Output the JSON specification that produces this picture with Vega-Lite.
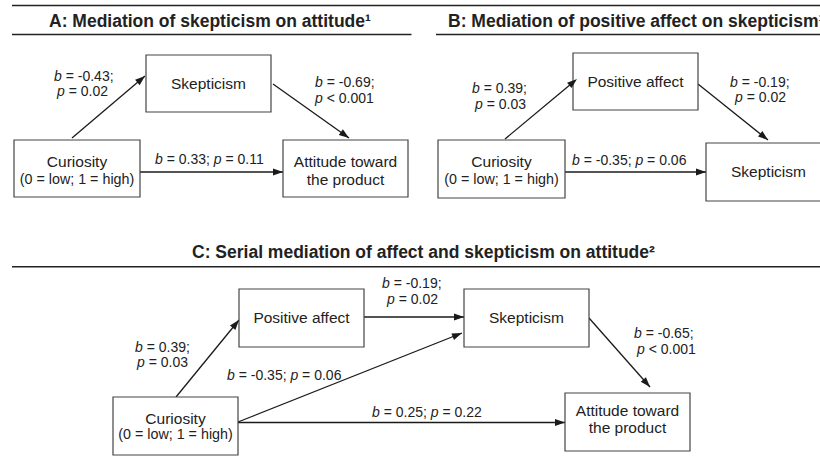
{
  "$schema": "https://vega.github.io/schema/vega-lite/v6.json",
  "width": 820,
  "height": 473,
  "autosize": {"type": "none"},
  "padding": 0,
  "background": "white",
  "config": {"view": {"stroke": null}, "font": "Liberation Sans"},
  "datasets": {
    "titles": [
      {"panel": "A", "x": 49, "y": 27, "text": "A: Mediation of skepticism on attitude¹"},
      {"panel": "B", "x": 448, "y": 27, "text": "B: Mediation of positive affect on skepticism¹"},
      {"panel": "C", "x": 192, "y": 258.3, "text": "C: Serial mediation of affect and skepticism on attitude²"}
    ],
    "rules": [
      {"x": 12, "x2": 820, "y": 5.5},
      {"x": 12, "x2": 411.5, "y": 34.5},
      {"x": 436, "x2": 820, "y": 34.5},
      {"x": 12, "x2": 820, "y": 266.7}
    ],
    "boxes": [
      {"panel": "A", "node": "Skepticism", "x": 146, "x2": 271, "y": 55, "y2": 112},
      {"panel": "A", "node": "Curiosity", "x": 14, "x2": 140, "y": 140, "y2": 197},
      {"panel": "A", "node": "Attitude", "x": 283, "x2": 408, "y": 140, "y2": 197},
      {"panel": "B", "node": "Positive affect", "x": 573, "x2": 698, "y": 53, "y2": 110},
      {"panel": "B", "node": "Curiosity", "x": 438, "x2": 565, "y": 140, "y2": 198},
      {"panel": "B", "node": "Skepticism", "x": 706, "x2": 831, "y": 143, "y2": 201},
      {"panel": "C", "node": "Positive affect", "x": 239, "x2": 364, "y": 289, "y2": 347},
      {"panel": "C", "node": "Skepticism", "x": 464, "x2": 589, "y": 289, "y2": 347},
      {"panel": "C", "node": "Curiosity", "x": 113, "x2": 238, "y": 397, "y2": 455},
      {"panel": "C", "node": "Attitude", "x": 565, "x2": 690, "y": 393, "y2": 451}
    ],
    "nodeText": [
      {"panel": "A", "x": 208.5, "y": 83.5, "text": "Skepticism", "role": "main"},
      {"panel": "A", "x": 77, "y": 162, "text": "Curiosity", "role": "main"},
      {"panel": "A", "x": 77, "y": 180, "text": "(0 = low; 1 = high)", "role": "sub"},
      {"panel": "A", "x": 345.5, "y": 162, "text": "Attitude toward", "role": "main"},
      {"panel": "A", "x": 345.5, "y": 180, "text": "the product", "role": "main"},
      {"panel": "B", "x": 635.5, "y": 81.5, "text": "Positive affect", "role": "main"},
      {"panel": "B", "x": 501.5, "y": 162.3, "text": "Curiosity", "role": "main"},
      {"panel": "B", "x": 501.5, "y": 180, "text": "(0 = low; 1 = high)", "role": "sub"},
      {"panel": "B", "x": 768.5, "y": 171.7, "text": "Skepticism", "role": "main"},
      {"panel": "C", "x": 301.5, "y": 318, "text": "Positive affect", "role": "main"},
      {"panel": "C", "x": 526.5, "y": 317.7, "text": "Skepticism", "role": "main"},
      {"panel": "C", "x": 175.5, "y": 419, "text": "Curiosity", "role": "main"},
      {"panel": "C", "x": 175.5, "y": 435, "text": "(0 = low; 1 = high)", "role": "sub"},
      {"panel": "C", "x": 627.5, "y": 410.7, "text": "Attitude toward", "role": "main"},
      {"panel": "C", "x": 627.5, "y": 428.3, "text": "the product", "role": "main"}
    ],
    "edges": [
      {"panel": "A", "from": "Curiosity", "to": "Skepticism", "x1": 72, "y1": 138, "x2": 145, "y2": 76},
      {"panel": "A", "from": "Skepticism", "to": "Attitude", "x1": 273, "y1": 84, "x2": 349, "y2": 138},
      {"panel": "A", "from": "Curiosity", "to": "Attitude", "x1": 140, "y1": 172, "x2": 283, "y2": 172},
      {"panel": "B", "from": "Curiosity", "to": "Positive affect", "x1": 505, "y1": 139, "x2": 577, "y2": 79},
      {"panel": "B", "from": "Positive affect", "to": "Skepticism", "x1": 698, "y1": 84, "x2": 768, "y2": 140},
      {"panel": "B", "from": "Curiosity", "to": "Skepticism", "x1": 565, "y1": 172, "x2": 706, "y2": 172},
      {"panel": "C", "from": "Curiosity", "to": "Positive affect", "x1": 176, "y1": 397, "x2": 239, "y2": 320},
      {"panel": "C", "from": "Positive affect", "to": "Skepticism", "x1": 364, "y1": 317, "x2": 464, "y2": 317},
      {"panel": "C", "from": "Curiosity", "to": "Skepticism", "x1": 238, "y1": 422, "x2": 462, "y2": 333},
      {"panel": "C", "from": "Curiosity", "to": "Attitude", "x1": 238, "y1": 422.5, "x2": 565, "y2": 422.5},
      {"panel": "C", "from": "Skepticism", "to": "Attitude", "x1": 589, "y1": 318, "x2": 650, "y2": 387}
    ],
    "edgeLabels": [
      {"panel": "A", "x": 54, "y": 77, "it": "b", "rest": "= -0.43;"},
      {"panel": "A", "x": 57, "y": 91.5, "it": "p", "rest": "= 0.02"},
      {"panel": "A", "x": 315, "y": 82.5, "it": "b", "rest": "= -0.69;"},
      {"panel": "A", "x": 315, "y": 98.5, "it": "p", "rest": "< 0.001"},
      {"panel": "A", "x": 155, "y": 160, "it": "b", "rest": "= 0.33;"},
      {"panel": "A", "x": 213.8, "y": 160, "it": "p", "rest": "= 0.11"},
      {"panel": "B", "x": 472, "y": 89, "it": "b", "rest": "= 0.39;"},
      {"panel": "B", "x": 475, "y": 105, "it": "p", "rest": "= 0.03"},
      {"panel": "B", "x": 730, "y": 82.5, "it": "b", "rest": "= -0.19;"},
      {"panel": "B", "x": 735, "y": 98, "it": "p", "rest": "= 0.02"},
      {"panel": "B", "x": 572, "y": 161, "it": "b", "rest": "= -0.35;"},
      {"panel": "B", "x": 635.4, "y": 161, "it": "p", "rest": "= 0.06"},
      {"panel": "C", "x": 135, "y": 347.5, "it": "b", "rest": "= 0.39;"},
      {"panel": "C", "x": 137, "y": 362.5, "it": "p", "rest": "= 0.03"},
      {"panel": "C", "x": 227, "y": 376, "it": "b", "rest": "= -0.35;"},
      {"panel": "C", "x": 290.4, "y": 376, "it": "p", "rest": "= 0.06"},
      {"panel": "C", "x": 382, "y": 284, "it": "b", "rest": "= -0.19;"},
      {"panel": "C", "x": 387, "y": 300, "it": "p", "rest": "= 0.02"},
      {"panel": "C", "x": 634, "y": 334, "it": "b", "rest": "= -0.65;"},
      {"panel": "C", "x": 637, "y": 350, "it": "p", "rest": "< 0.001"},
      {"panel": "C", "x": 372, "y": 412.5, "it": "b", "rest": "= 0.25;"},
      {"panel": "C", "x": 430.8, "y": 412.5, "it": "p", "rest": "= 0.22"}
    ]
  },
  "layer": [
    {
      "data": {"name": "rules"},
      "mark": {"type": "rule", "stroke": "#222", "strokeWidth": 1.5},
      "encoding": {
        "x": {"field": "x", "type": "quantitative", "scale": {"domain": [0, 820], "nice": false, "zero": false}, "axis": null},
        "x2": {"field": "x2"},
        "y": {"field": "y", "type": "quantitative", "scale": {"domain": [0, 473], "reverse": true, "nice": false, "zero": false}, "axis": null}
      }
    },
    {
      "data": {"name": "titles"},
      "mark": {"type": "text", "align": "left", "baseline": "alphabetic", "fontSize": 17.5, "fontWeight": "bold", "color": "#222"},
      "encoding": {
        "x": {"field": "x", "type": "quantitative", "axis": null},
        "y": {"field": "y", "type": "quantitative", "axis": null},
        "text": {"field": "text"}
      }
    },
    {
      "data": {"name": "edges"},
      "mark": {"type": "rule", "stroke": "#1a1a1a", "strokeWidth": 1.3},
      "encoding": {
        "x": {"field": "x1", "type": "quantitative", "axis": null},
        "y": {"field": "y1", "type": "quantitative", "axis": null},
        "x2": {"field": "x2"},
        "y2": {"field": "y2"}
      }
    },
    {
      "data": {"name": "boxes"},
      "mark": {"type": "rect", "fill": "white", "stroke": "#444", "strokeWidth": 1.2},
      "encoding": {
        "x": {"field": "x", "type": "quantitative", "axis": null},
        "x2": {"field": "x2"},
        "y": {"field": "y", "type": "quantitative", "axis": null},
        "y2": {"field": "y2"}
      }
    },
    {
      "data": {"name": "edges"},
      "transform": [
        {"calculate": "atan2(datum.x2 - datum.x1, datum.y1 - datum.y2) * 180 / PI", "as": "heading"}
      ],
      "mark": {"type": "point", "shape": "M0,0L-0.35,1L0.35,1Z", "size": 400, "filled": true, "fill": "#1a1a1a", "opacity": 1, "strokeWidth": 0},
      "encoding": {
        "x": {"field": "x2", "type": "quantitative", "axis": null},
        "y": {"field": "y2", "type": "quantitative", "axis": null},
        "angle": {"field": "heading", "type": "quantitative", "scale": null}
      }
    },
    {
      "data": {"name": "nodeText"},
      "mark": {"type": "text", "align": "center", "baseline": "middle", "color": "#222"},
      "encoding": {
        "x": {"field": "x", "type": "quantitative", "axis": null},
        "y": {"field": "y", "type": "quantitative", "axis": null},
        "text": {"field": "text"},
        "size": {"field": "role", "type": "nominal", "scale": {"domain": ["main", "sub"], "range": [15.5, 14.3]}, "legend": null}
      }
    },
    {
      "data": {"name": "edgeLabels"},
      "mark": {"type": "text", "align": "left", "baseline": "middle", "fontSize": 14, "fontStyle": "italic", "color": "#222"},
      "encoding": {
        "x": {"field": "x", "type": "quantitative", "axis": null},
        "y": {"field": "y", "type": "quantitative", "axis": null},
        "text": {"field": "it"}
      }
    },
    {
      "data": {"name": "edgeLabels"},
      "mark": {"type": "text", "align": "left", "baseline": "middle", "fontSize": 14, "dx": 11.7, "color": "#222"},
      "encoding": {
        "x": {"field": "x", "type": "quantitative", "axis": null},
        "y": {"field": "y", "type": "quantitative", "axis": null},
        "text": {"field": "rest"}
      }
    }
  ]
}
